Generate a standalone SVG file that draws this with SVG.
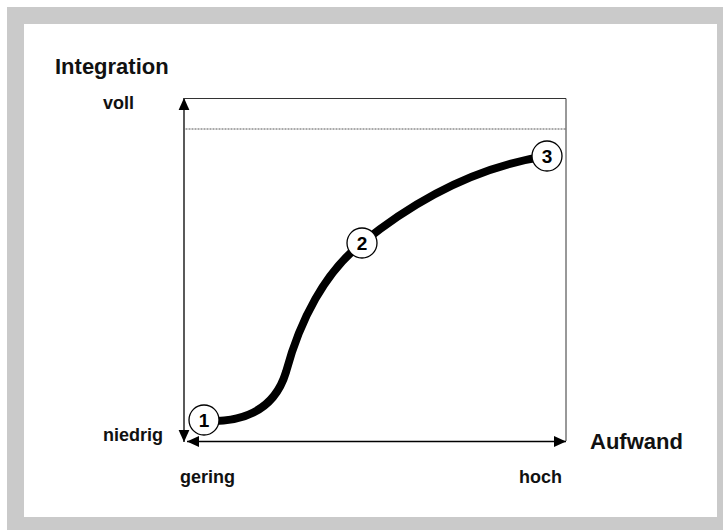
<svg xmlns="http://www.w3.org/2000/svg" width="723" height="530" viewBox="0 0 723 530">
  <style>
    .lbl { font-family: "Liberation Sans", Arial, sans-serif; font-weight: bold; fill: #111; }
    .big { font-size: 22px; }
    .small { font-size: 18px; }
    .num { font-family: "Liberation Sans", Arial, sans-serif; font-weight: bold; font-size: 19px; fill: #000; text-anchor: middle; }
    .axis { stroke: #000; stroke-width: 1.3; fill: none; }
    .frame { stroke: #333; stroke-width: 1; fill: none; }
    .node circle { fill: #fff; stroke: #000; stroke-width: 1.3; }
  </style>
  <defs>
    <marker id="arr" markerUnits="userSpaceOnUse" markerWidth="12" markerHeight="12" viewBox="0 0 10 10" refX="10" refY="5" orient="auto-start-reverse">
      <path d="M0,0.5 L10,5 L0,9.5 Z" fill="#000"/>
    </marker>
  </defs>
  <rect x="7" y="7" width="716" height="523" fill="#cacaca"/>
  <rect x="24" y="24" width="693" height="493" fill="#fff"/>

  <g id="connectors">
    <line class="axis" x1="184" y1="442" x2="184" y2="98" marker-start="url(#arr)" marker-end="url(#arr)"/>
    <line class="axis" x1="187" y1="441.5" x2="566" y2="441.5" marker-start="url(#arr)" marker-end="url(#arr)"/>
    <polyline class="frame" points="184,98.5 566,98.5 566,441"/>
    <line x1="185.5" y1="129" x2="566" y2="129" stroke="#555" stroke-width="1" stroke-dasharray="2,1"/>
    <path d="M204,421 C250,423 276,405 286,372 C300,320 325,272 362,243 C420,196 480,166 547,156" fill="none" stroke="#000" stroke-width="8"/>
  </g>

  <g id="label-integration"><text class="lbl big" x="55" y="74">Integration</text></g>
  <g id="label-voll"><text class="lbl small" x="103" y="109">voll</text></g>
  <g id="label-niedrig"><text class="lbl small" x="103" y="441">niedrig</text></g>
  <g id="label-aufwand"><text class="lbl big" x="590" y="449">Aufwand</text></g>
  <g id="label-gering"><text class="lbl small" x="180" y="483">gering</text></g>
  <g id="label-hoch"><text class="lbl small" x="519" y="483">hoch</text></g>

  <g id="node-1" class="node"><circle cx="204" cy="420" r="15"/><text class="num" x="204" y="427">1</text></g>
  <g id="node-2" class="node"><circle cx="362" cy="243" r="15"/><text class="num" x="362" y="250">2</text></g>
  <g id="node-3" class="node"><circle cx="547" cy="156" r="15"/><text class="num" x="547" y="163">3</text></g>
</svg>
